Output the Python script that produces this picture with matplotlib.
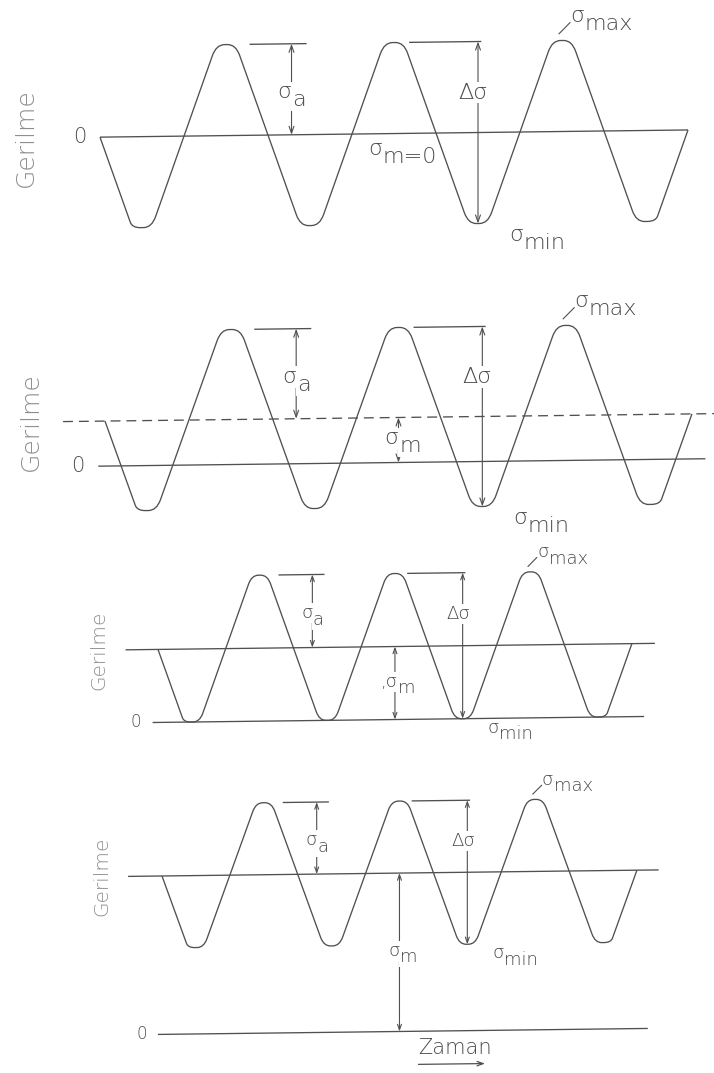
import numpy as np
import matplotlib
matplotlib.use("Agg")
import matplotlib.pyplot as plt
from matplotlib.path import Path
from matplotlib.patches import PathPatch
from matplotlib.transforms import Affine2D

# ---------------------------------------------------------------- data
# timing of the load cycles (time in cycles), identical for all four records
trough_times = [0.25, 1.25, 2.25, 3.25]
peak_times = [0.75, 1.75, 2.75]
t_start, t_end = 0.0, 3.5

# stress amplitude and mean stress of each record (amplitude = 1 unit)
sigma_a = [1.0, 1.0, 1.0, 1.0]
sigma_m = [0.0, 0.5, 1.0, 2.2]

# horizontal extent of the zero line and of the mean-stress line (cycles)
zero_span = [(0.0, 3.5), (-0.04, 3.58), (-0.04, 3.59), (-0.03, 3.58)]
mean_span = [None, (-0.25, 3.65), (-0.24, 3.67), (-0.25, 3.66)]
mean_style = [None, "dashed", "solid", "solid"]

# annotation anchors (cycles)
t_amp = 1.14            # sigma_a dimension
t_amp_cap = (0.89, 1.23)
t_range = 2.25          # delta sigma dimension
t_range_cap = (1.84, 2.27)
t_mean = 1.75           # sigma_m dimension
t_smax = 2.80
t_smin = 2.60

y_label = "Gerilme"
x_label = "Zaman"

# ---------------------------------------------------------------- layout
W, H, DPI = 714, 1073, 100
# pixel position of t=0, pixels per cycle, pixel row of zero stress, pixels per unit
frames = [(100, 168.0, 134, 91.0),
          (105, 167.7, 463, 90.0),
          (158, 135.4, 720, 73.0),
          (162, 135.7, 1032, 72.0)]
label_size = [16, 16, 13, 13]
word_size = [18, 18, 14.5, 14.5]
scales = [1.0, 1.0, 0.8, 0.8]
TILT_DEG = 0.7          # the whole sheet is drawn very slightly rotated

INK = "#505050"
TXT = "#4a4a4a"
SOFT = "#8e8e8e"
LW = 0.95
WEIGHT = 200

plt.rcParams["font.family"] = ["DejaVu Sans"]

fig = plt.figure(figsize=(W / DPI, H / DPI), dpi=DPI)
fig.patch.set_facecolor("white")
tilt = (Affine2D().translate(-W / 2, -H / 2)
        .skew_deg(0, TILT_DEG).translate(W / 2, H / 2))


def wave_path(m, a, w=0.058, f_flat=0.42, f_ramp=0.06):
    verts = [(t_start, m)]
    extremes = sorted([(t, m - a) for t in trough_times] +
                      [(t, m + a) for t in peak_times])
    for te, lvl in extremes:
        verts += [(te - w, lvl), (te + w, lvl)]
    verts.append((t_end, m))
    pts, codes = [verts[0]], [Path.MOVETO]
    for i in range(1, len(verts) - 1):
        p0, p, p1 = (np.array(v, float) for v in verts[i - 1:i + 2])
        fa = f_flat if p0[1] == p[1] else f_ramp
        fb = f_flat if p1[1] == p[1] else f_ramp
        pts += [p + fa * (p0 - p), p, p + fb * (p1 - p)]
        codes += [Path.LINETO, Path.CURVE3, Path.CURVE3]
    pts.append(verts[-1])
    codes.append(Path.LINETO)
    return Path(pts, codes)


for i, (x0, P, y0, S) in enumerate(frames):
    k = scales[i]
    fs = label_size[i]
    m, a = sigma_m[i], sigma_a[i]
    ax = fig.add_axes([0, 0, 1, 1])
    ax.set_xlim(-x0 / P, (W - x0) / P)
    ax.set_ylim((y0 - H) / S, y0 / S)
    ax.set_axis_off()
    tr = ax.transData + tilt

    def line(xs, ys, **kw):
        kw.setdefault("lw", LW)
        ax.plot(xs, ys, color=INK, transform=tr, solid_capstyle="butt", **kw)

    def dim_arrow(t, s0, s1, style="<->"):
        ax.annotate("", xy=(t, s1), xytext=(t, s0), xycoords=tr,
                    arrowprops=dict(arrowstyle=f"{style},head_length=0.45,head_width=0.16",
                                    lw=0.8, color=INK, shrinkA=0, shrinkB=0,
                                    mutation_scale=11 * k))

    def sig(t, s, sub, ha="center", prefix="", box=False):
        wsig = 0.63 * fs * (1 + 0.5 * len(prefix))
        wsub = 0.62 * fs * len(sub)
        dx = -(wsig + wsub) / 2 if ha == "center" else 0
        bb = dict(fc="white", ec="none", pad=0.6) if box else None
        main = ax.annotate(prefix + "σ", xy=(t, s), xycoords=tr, xytext=(dx, 0),
                           textcoords="offset points", ha="left", va="baseline",
                           fontsize=fs, color=TXT, fontweight=WEIGHT, bbox=bb)
        ax.annotate(sub, xy=(1, 0), xycoords=main, xytext=(0.3, -0.36 * fs),
                    textcoords="offset points", ha="left", va="bottom",
                    fontsize=fs, color=TXT, fontweight=WEIGHT, bbox=bb)

    # zero line and mean-stress line
    z0, z1 = zero_span[i]
    line([z0, z1], [0, 0])
    if mean_span[i] is not None:
        m0, m1 = mean_span[i]
        ls = (0, (7.5, 4.5)) if mean_style[i] == "dashed" else "-"
        line([m0, m1], [m, m], ls=ls)

    # stress-time record
    ax.add_patch(PathPatch(wave_path(m, a), fc="none", ec=INK, lw=LW,
                           joinstyle="round", transform=tr))

    # axis words
    ax.annotate("0", xy=(z0, 0), xycoords=tr, xytext=(-10 * k, 0),
                textcoords="offset points", ha="right", va="center",
                fontsize=15 * k, color=TXT, fontweight=WEIGHT)
    ax.text(-0.44, m, y_label, rotation=90, ha="center", va="center",
            fontsize=word_size[i], color=SOFT, fontweight=WEIGHT, transform=tr)

    # amplitude dimension
    line(t_amp_cap, [m + a, m + a])
    dim_arrow(t_amp, m, m + a)
    sig(t_amp, m + 0.40 * a, "a", box=True)

    # stress range dimension
    line(t_range_cap, [m + a, m + a])
    dim_arrow(t_range, m - a, m + a)
    ax.text(t_range - 0.03, m + 0.44 * a, "Δσ", ha="center", va="center",
            fontsize=fs, color=TXT, fontweight=WEIGHT, transform=tr,
            bbox=dict(fc="white", ec="none", pad=0.6))

    # mean stress
    if m == 0:
        sig(t_mean + 0.01, -0.24, "m=0")
    else:
        dim_arrow(t_mean, 0, m)
        sig(t_mean, m / 2 - 0.05, "m", box=True,
            prefix="," if i == 2 else "")

    # extreme values
    line([t_smax - 0.07, t_smax], [m + a + 0.07, m + a + 0.2], lw=0.8)
    sig(t_smax, m + a + 0.2, "max", ha="left")
    sig(t_smin, m - a - 0.2, "min")

    if i == 3:
        ax.text(1.89, -0.32, x_label, ha="left", va="baseline",
                fontsize=15, color=TXT, fontweight=WEIGHT, transform=tr)
        ax.annotate("", xy=(2.38, -0.46), xytext=(1.89, -0.46), xycoords=tr,
                    arrowprops=dict(arrowstyle="->,head_length=0.5,head_width=0.18",
                                    lw=0.9, color=INK, shrinkA=0, shrinkB=0,
                                    mutation_scale=11 * k))

fig.savefig("out.png", dpi=DPI, facecolor="white")
